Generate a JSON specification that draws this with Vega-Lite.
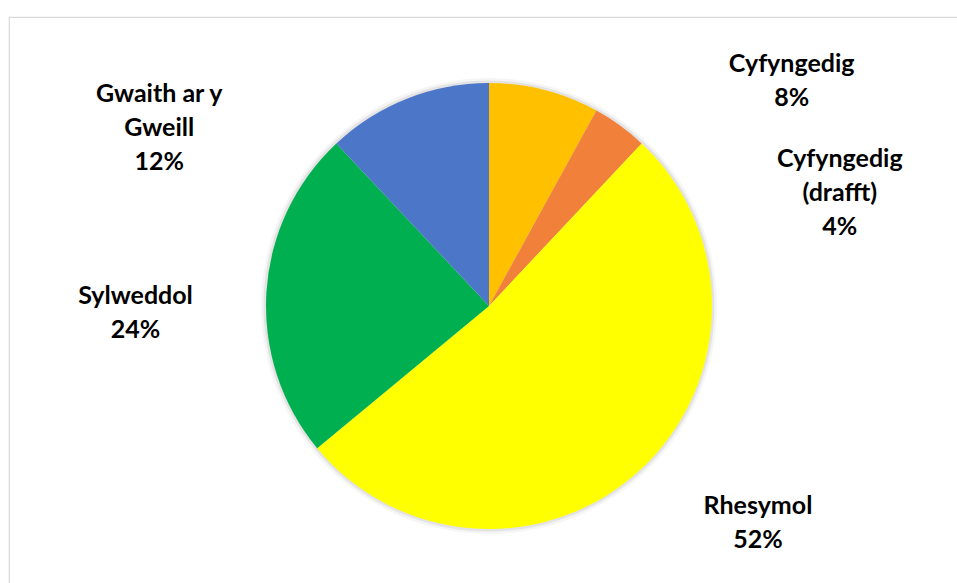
{
  "$schema": "https://vega.github.io/schema/vega-lite/v6.json",
  "autosize": "none",
  "padding": {"left": 9, "top": 17, "right": 0, "bottom": 0},
  "width": 960,
  "height": 578,
  "background": "white",
  "view": {"stroke": "#d9d9d9", "strokeWidth": 1.2},
  "config": {
    "view": {"stroke": "#d9d9d9", "strokeWidth": 1.2},
    "text": {"font": "Lato", "fontWeight": "bold", "fontSize": 25, "lineHeight": 34, "lineBreak": "\n", "color": "#000000"}
  },
  "data": {
    "values": [
      {"order": 1, "category": "Cyfyngedig", "name": "Cyfyngedig", "value": 8},
      {"order": 2, "category": "Cyfyngedig (drafft)", "name": "Cyfyngedig\n(drafft)", "value": 4},
      {"order": 3, "category": "Rhesymol", "name": "Rhesymol", "value": 52},
      {"order": 4, "category": "Sylweddol", "name": "Sylweddol", "value": 24},
      {"order": 5, "category": "Gwaith ar y Gweill", "name": "Gwaith ar y\nGweill", "value": 12}
    ]
  },
  "transform": [{"calculate": "datum.name + '\\n' + datum.value + '%'", "as": "label"}],
  "layer": [
    {
      "data": {"values": [{"k": 1}]},
      "mark": {"type": "arc", "theta": 0, "theta2": 6.2832, "outerRadius": 228, "fill": "#000000", "opacity": 0.04},
      "encoding": {}
    },
    {
      "data": {"values": [{"k": 1}]},
      "mark": {"type": "arc", "theta": 0, "theta2": 6.2832, "outerRadius": 225.5, "fill": "#000000", "opacity": 0.07},
      "encoding": {}
    },
    {
      "mark": {"type": "arc", "outerRadius": 223},
      "encoding": {
        "theta": {"field": "value", "type": "quantitative", "stack": true},
        "order": {"field": "order", "type": "quantitative"},
        "color": {
          "field": "category",
          "type": "nominal",
          "scale": {
            "domain": ["Cyfyngedig", "Cyfyngedig (drafft)", "Rhesymol", "Sylweddol", "Gwaith ar y Gweill"],
            "range": ["#FFC000", "#F0803A", "#FFFF00", "#00B050", "#4C76C8"]
          },
          "legend": null
        }
      }
    },
    {
      "mark": {"type": "text", "radius": 260, "dx": 238, "dy": 10},
      "encoding": {
        "theta": {"field": "value", "type": "quantitative", "stack": true},
        "order": {"field": "order", "type": "quantitative"},
        "text": {"condition": {"test": "datum.order == 1", "field": "label"}, "value": ""}
      }
    },
    {
      "mark": {"type": "text", "radius": 260, "dx": 198, "dy": 63},
      "encoding": {
        "theta": {"field": "value", "type": "quantitative", "stack": true},
        "order": {"field": "order", "type": "quantitative"},
        "text": {"condition": {"test": "datum.order == 2", "field": "label"}, "value": ""}
      }
    },
    {
      "mark": {"type": "text", "radius": 260, "dx": 91, "dy": 10},
      "encoding": {
        "theta": {"field": "value", "type": "quantitative", "stack": true},
        "order": {"field": "order", "type": "quantitative"},
        "text": {"condition": {"test": "datum.order == 3", "field": "label"}, "value": ""}
      }
    },
    {
      "mark": {"type": "text", "radius": 260, "dx": -94, "dy": 6},
      "encoding": {
        "theta": {"field": "value", "type": "quantitative", "stack": true},
        "order": {"field": "order", "type": "quantitative"},
        "text": {"condition": {"test": "datum.order == 4", "field": "label"}, "value": ""}
      }
    },
    {
      "mark": {"type": "text", "radius": 260, "dx": -234, "dy": 30},
      "encoding": {
        "theta": {"field": "value", "type": "quantitative", "stack": true},
        "order": {"field": "order", "type": "quantitative"},
        "text": {"condition": {"test": "datum.order == 5", "field": "label"}, "value": ""}
      }
    }
  ]
}
